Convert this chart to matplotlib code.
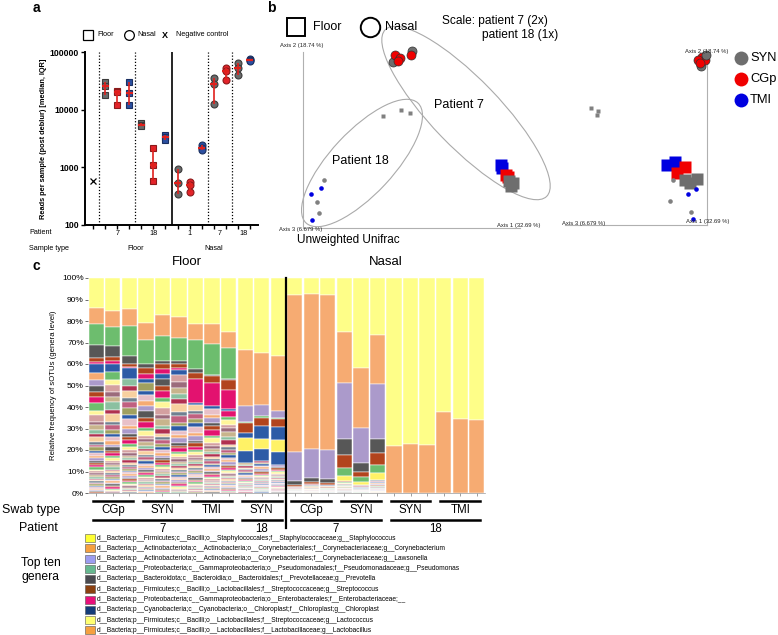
import numpy as np
import matplotlib
matplotlib.use('Agg')
import matplotlib.pyplot as plt
import matplotlib.transforms as mtransforms
from matplotlib.patches import Ellipse, Rectangle
from matplotlib.ticker import NullLocator

plt.rcParams['font.family'] = ['Liberation Sans', 'DejaVu Sans']

W, H = 778, 635

# ---------------- panel a : reads per sample ----------------
a_sample = ['Floor'] * 6 + ['Nasal'] * 7
a_patient = [7, 7, 7, 18, 18, 18, 1, 1, 1, 7, 7, 18, 18]
a_swab = ['SYN', 'CGp', 'TMI', 'SYN', 'CGp', 'TMI', 'SYN', 'CGp', 'TMI',
          'SYN', 'CGp', 'SYN', 'TMI']
a_reads = [[30000, 26000, 18000], [21000, 20000, 12000], [30000, 19500, 12000],
           [5800, 5500, 5200], [2200, 1100, 580], [3700, 3300, 3000],
           [950, 540, 350], [550, 500, 370], [2400, 2200, 2000],
           [36000, 28000, 12500], [52000, 47000, 33000],
           [64000, 52000, 40000], [75000, 72000, 69000]]
neg_control = 580
a_patient_ticks = [('7', 2), ('18', 5), ('1', 8), ('7', 10.5), ('18', 12.5)]
a_sample_ticks = [('Floor', 3.5), ('Nasal', 10)]

swab_face = {'SYN': '#6a6a6a', 'CGp': '#e3242b', 'TMI': '#2b4fa0'}
swab_edge = {'SYN': '#3a3a3a', 'CGp': '#8b1a1a', 'TMI': '#1a2f60'}

# ---------------- panel b : PCoA (unweighted unifrac) ----------------
b_type = ['Nasal'] * 6 + ['Floor'] * 7 + ['Floor'] * 3 + ['Nasal'] * 6
b_patient = [7] * 6 + [7] * 7 + [18] * 3 + [18] * 6
b_swab = ['SYN', 'CGp', 'CGp', 'CGp', 'SYN', 'CGp',
          'TMI', 'TMI', 'CGp', 'CGp', 'SYN', 'SYN', 'SYN',
          'SYN', 'SYN', 'SYN',
          'SYN', 'TMI', 'TMI', 'SYN', 'SYN', 'TMI']
# view 1 (axis 3 / axis 2 face)
b1_x = [0.90, 0.92, 0.97, 0.95, 1.09, 1.08,
        1.98, 1.99, 2.03, 2.05, 2.10, 2.08, 2.06,
        0.80, 0.98, 1.07,
        0.21, 0.18, 0.08, 0.14, 0.16, 0.09]
b1_y = [1.66, 1.73, 1.70, 1.67, 1.77, 1.73,
        0.63, 0.60, 0.53, 0.51, 0.45, 0.42, 0.47,
        1.12, 1.18, 1.15,
        0.48, 0.40, 0.34, 0.26, 0.15, 0.08]
# view 2 (axis 1 / axis 2 face)
b2_x = [1.36, 1.37, 1.40, 1.33, 1.41, 1.35,
        1.02, 1.10, 1.12, 1.20, 1.20, 1.32, 1.25,
        0.26, 0.33, 0.32,
        1.08, 1.31, 1.23, 1.05, 1.26, 1.28]
b2_y = [1.59, 1.68, 1.65, 1.65, 1.70, 1.62,
        0.60, 0.63, 0.52, 0.58, 0.45, 0.46, 0.42,
        1.17, 1.14, 1.10,
        0.45, 0.36, 0.31, 0.24, 0.13, 0.06]
b_colors = {'SYN': '#6e6e6e', 'CGp': '#f00000', 'TMI': '#0000e0'}

# ---------------- panel c : genera barplot ----------------
genus_labels = [
    'd__Bacteria;p__Firmicutes;c__Bacilli;o__Staphylococcales;f__Staphylococcaceae;g__Staphylococcus',
    'd__Bacteria;p__Actinobacteriota;c__Actinobacteria;o__Corynebacteriales;f__Corynebacteriaceae;g__Corynebacterium',
    'd__Bacteria;p__Actinobacteriota;c__Actinobacteria;o__Corynebacteriales;f__Corynebacteriaceae;g__Lawsonella',
    'd__Bacteria;p__Proteobacteria;c__Gammaproteobacteria;o__Pseudomonadales;f__Pseudomonadaceae;g__Pseudomonas',
    'd__Bacteria;p__Bacteroidota;c__Bacteroidia;o__Bacteroidales;f__Prevotellaceae;g__Prevotella',
    'd__Bacteria;p__Firmicutes;c__Bacilli;o__Lactobacillales;f__Streptococcaceae;g__Streptococcus',
    'd__Bacteria;p__Proteobacteria;c__Gammaproteobacteria;o__Enterobacterales;f__Enterobacteriaceae;__',
    'd__Bacteria;p__Cyanobacteria;c__Cyanobacteria;o__Chloroplast;f__Chloroplast;g__Chloroplast',
    'd__Bacteria;p__Firmicutes;c__Bacilli;o__Lactobacillales;f__Streptococcaceae;g__Lactococcus',
    'd__Bacteria;p__Firmicutes;c__Bacilli;o__Lactobacillales;f__Lactobacillaceae;g__Lactobacillus',
]
legend_colors = ['#ffff33', '#f5a040', '#9c9cf0', '#66b890', '#4a4a50',
                 '#8b4010', '#e8107a', '#143c78', '#ffff70', '#f5a040']

# relative frequency (%) per sample, 12 floor then 12 nasal
staph = [14, 15.5, 14.5, 21, 17, 18, 21.5, 21.5, 25, 33.5, 35, 36.5,
         8, 7.5, 8, 25, 41.8, 26.6, 78.2, 77, 77.5, 62.3, 65.6, 66]
coryne = [7.5, 7.3, 8, 8, 10, 10, 7.5, 9, 7.5, 26, 24, 25.5,
          73, 72, 72, 23.8, 27.9, 22.9, 21.8, 23, 22.5, 37.7, 34.4, 34]
laws = [0, 0, 0, 0, 0, 0, 0, 0, 0, 7.5, 5, 3,
        13.3, 13.5, 13.5, 26.2, 16.3, 25.5, 0, 0, 0, 0, 0, 0]
pseudo = [9.5, 9, 14, 11, 11.5, 10.5, 13.5, 14.5, 14.5, 0.5, 1, 0.5,
          0, 0, 0, 0, 0, 0, 0, 0, 0, 0, 0, 0]
prev = [6, 5, 3.5, 2, 1.5, 1.5, 1.5, 0.5, 0.5, 0, 0, 0,
        2, 2, 2, 7.5, 4.1, 6.5, 0, 0, 0, 0, 0, 0]
strep = [2, 2, 1.5, 2.5, 2.5, 2, 3, 3.5, 4.5, 4.5, 4, 3.8,
         0.7, 1, 1, 6, 2.3, 5.5, 0, 0, 0, 0, 0, 0]
entero = [1, 1, 0.5, 2.5, 2, 1, 11, 10.5, 9, 0, 0, 0,
          0, 0, 0, 0, 0, 0, 0, 0, 0, 0, 0, 0]
chloro = [4, 4, 5, 2, 2.5, 2, 1, 1.5, 1, 2.5, 6, 6,
          0, 0, 0, 0, 0, 0, 0, 0, 0, 0, 0, 0]
green_other = [0, 0, 0, 0, 0, 0, 0, 0, 0, 0, 0, 0,
               0, 0, 0, 3.5, 2.7, 3.5, 0, 0, 0, 0, 0, 0]
lacto = [0, 0, 0, 0, 0, 0, 0, 0, 0, 6, 4.5, 5.7,
         0, 0, 0, 2.5, 1.2, 3.5, 0, 0, 0, 0, 0, 0]
blue_other = [0, 0, 0, 0, 0, 0, 0, 0, 0, 5.5, 5.5, 6,
              0, 0, 0, 0, 0, 0, 0, 0, 0, 0, 0, 0]

stack = [(staph, '#fefe88'), (coryne, '#f6ab72'), (laws, '#ab9acb'),
         (pseudo, '#6dbd6e'), (prev, '#575757'), (strep, '#b2441d'),
         (entero, '#e3126f'), (chloro, '#2d5ba6'), (green_other, '#6dbd6e'),
         (lacto, '#fff266'), (blue_other, '#2d5ba6')]

# remaining rare sOTUs: rough relative sizes of the stripes below the top taxa
minor_weights = [3.0, 2.0, 2.5, 1.8, 2.2, 3.0, 1.5, 2.8, 1.2, 2.0, 1.5, 1.0,
                 1.8, 1.2, 1.0, 1.4, 0.9, 1.1, 0.8, 1.0, 0.9, 0.7, 0.8, 0.9,
                 0.6, 0.7, 0.8, 0.6, 0.7, 0.6, 0.5, 0.6, 0.5, 0.6, 0.5, 0.5,
                 0.4, 0.5, 0.4, 0.4]
minor_palette = ['#f6ab72', '#ab9acb', '#575757', '#b2441d', '#e3126f',
                 '#6dbd6e', '#fff69a', '#d4a0a0', '#9c6b7b', '#c8b48c',
                 '#8bc0a0', '#b03050', '#f8d0a0', '#708090', '#c06080',
                 '#a0a060', '#2d5ba6', '#e8c0c8']

swab_groups = [('CGp', 0, 2), ('SYN', 3, 5), ('TMI', 6, 8), ('SYN', 9, 11),
               ('CGp', 12, 14), ('SYN', 15, 17), ('SYN', 18, 20), ('TMI', 21, 23)]
patient_groups = [('7', 0, 8), ('18', 9, 11), ('7', 12, 17), ('18', 18, 23)]

# ---------------- figure ----------------
fig = plt.figure(figsize=(W / 100, H / 100), dpi=100)


def px_axes(l, t, r, b):
    return fig.add_axes([l / W, 1 - b / H, (r - l) / W, (b - t) / H])


# ---- a
ax = px_axes(85, 52, 258, 225)
ax.set_yscale('log')
ax.set_ylim(100, 100000)
ax.set_xlim(-0.7, 13.7)
for i, (sw, st, vals) in enumerate(zip(a_swab, a_sample, a_reads)):
    xpos = i + 1
    mk = 's' if st == 'Floor' else 'o'
    ax.plot([xpos] * len(vals), vals, ls='none', marker=mk, ms=5,
            mfc=swab_face[sw], mec=swab_edge[sw], mew=0.8, zorder=3)
    q1, med, q3 = np.percentile(vals, [25, 50, 75], method='weibull')
    ax.vlines(xpos, q1, q3, color='#e0201c', lw=1.2, zorder=4)
    ax.hlines(med, xpos - 0.3, xpos + 0.3, color='#e0201c', lw=1.6, zorder=4)
ax.plot(0, neg_control, marker='x', color='black', ms=5, mew=0.9, ls='none')
for xv in [0.5, 3.5, 9.5, 11.5]:
    ax.axvline(xv, color='black', ls=(0, (1, 1.5)), lw=0.9)
ax.axvline(6.5, color='black', lw=1.2)
ax.set_yticks([100, 1000, 10000, 100000], labels=['100', '1000', '10000', '100000'])
ax.yaxis.set_minor_locator(NullLocator())
for lbl in ax.get_yticklabels():
    lbl.set_fontweight('bold')
ax.tick_params(axis='y', labelsize=6.2, length=3, width=1, pad=1.5)
ax.set_xticks(range(14))
ax.set_xticklabels([])
ax.tick_params(axis='x', length=3, width=1)
for s in ['top', 'right']:
    ax.spines[s].set_visible(False)
for s in ['left', 'bottom']:
    ax.spines[s].set_linewidth(1.4)
ax.set_ylabel('Reads per sample (post deblur) [median, IQR]', fontsize=5.3,
              fontweight='bold', labelpad=2)
ta = mtransforms.blended_transform_factory(ax.transData, ax.transAxes)
for lab, xv in a_patient_ticks:
    ax.text(xv, -0.048, lab, transform=ta, ha='center', va='center', fontsize=5.2)
for lab, xv in a_sample_ticks:
    ax.text(xv, -0.137, lab, transform=ta, ha='center', va='center', fontsize=5.2)

# ---- b, two faces of the 3D ordination
b1 = px_axes(303, 52, 520, 228)
b1.set_xlim(0, 2.17)
b1.set_ylim(0, 1.76)
b2 = px_axes(565, 52, 707, 225)
b2.set_xlim(0, 1.42)
b2.set_ylim(0, 1.73)
for bx, xs, ys, keep in [(b1, b1_x, b1_y, ['left', 'bottom']),
                         (b2, b2_x, b2_y, ['right', 'bottom'])]:
    bx.set_xticks([])
    bx.set_yticks([])
    bx.patch.set_alpha(0)
    for s in ['top', 'right', 'left', 'bottom']:
        bx.spines[s].set_visible(s in keep)
        bx.spines[s].set_color('#b0b0b0')
        bx.spines[s].set_linewidth(0.8)
    for x, y, t, p, sw in zip(xs, ys, b_type, b_patient, b_swab):
        if p == 7:
            if t == 'Floor':
                bx.plot(x, y, marker='s', ms=8, mfc=b_colors[sw], mec='none',
                        clip_on=False, zorder=3)
            else:
                bx.plot(x, y, marker='o', ms=6.5, mfc=b_colors[sw], mec='#333333',
                        mew=0.5, clip_on=False, zorder=3)
        else:
            mk = 's' if t == 'Floor' else 'o'
            col = '#808080' if sw == 'SYN' else b_colors[sw]
            bx.plot(x, y, marker=mk, ms=3.3, mfc=col, mec='none',
                    clip_on=False, zorder=3)
b1.add_patch(Ellipse((0.59, 0.65), 1.64, 0.63, angle=47, fill=False,
                     ec='#aaaaaa', lw=0.8, clip_on=False))
b1.add_patch(Ellipse((1.63, 1.15), 2.32, 0.68, angle=-46, fill=False,
                     ec='#aaaaaa', lw=0.8, clip_on=False))

# ---- c
axc = px_axes(88, 278, 485, 493)
bx_, bh, bb, bc = [], [], [], []
for i in range(24):
    top = 100.0
    for vals, col in stack:
        h = vals[i]
        if h <= 0:
            continue
        bx_.append(i); bh.append(h); bb.append(top - h); bc.append(col)
        top -= h
    minor = max(top, 0)
    if minor > 0.05:
        wsum = sum(minor_weights)
        off = (i * 5) % len(minor_palette)
        for k, w in enumerate(minor_weights):
            h = minor * w / wsum
            bx_.append(i); bh.append(h); bb.append(top - h)
            bc.append(minor_palette[(k + off) % len(minor_palette)])
            top -= h
axc.bar(bx_, bh, bottom=bb, width=0.92, color=bc, edgecolor='white', linewidth=0.35)
axc.set_xlim(-0.5, 23.5)
axc.set_ylim(0, 100)
axc.set_yticks(range(0, 101, 10), labels=[f'{v}%' for v in range(0, 101, 10)])
axc.tick_params(axis='y', labelsize=6, length=2, width=0.6, pad=1, color='#555555')
axc.set_xticks(range(24))
axc.set_xticklabels([])
axc.tick_params(axis='x', length=2, width=0.5, color='#777777')
for s in ['top', 'right', 'left']:
    axc.spines[s].set_visible(False)
axc.spines['bottom'].set_color('#999999')
axc.spines['bottom'].set_linewidth(0.5)
axc.set_ylabel('Relative frequency of sOTUs (genera level)', fontsize=5.6, labelpad=4)
tc = mtransforms.blended_transform_factory(axc.transData, axc.transAxes)
axc.plot([11.5, 11.5], [-0.163, 1.0], transform=tc, color='black', lw=1.6,
         clip_on=False, zorder=5)
axc.text(5.5, 1.075, 'Floor', transform=tc, ha='center', va='center', fontsize=9.5)
axc.text(17.5, 1.075, 'Nasal', transform=tc, ha='center', va='center', fontsize=9.5)
for lab, i0, i1 in swab_groups:
    axc.plot([i0 - 0.2, i1 + 0.2], [-0.037, -0.037], transform=tc, color='black',
             lw=1.8, clip_on=False)
    axc.text((i0 + i1) / 2, -0.081, lab, transform=tc, ha='center', va='center',
             fontsize=8.3)
for lab, i0, i1 in patient_groups:
    axc.plot([i0 - 0.2, i1 + 0.2], [-0.126, -0.126], transform=tc, color='black',
             lw=1.8, clip_on=False)
    axc.text((i0 + i1) / 2, -0.168, lab, transform=tc, ha='center', va='center',
             fontsize=8.3)

# ---- overlay for labels and legends (pixel coordinates)
ov = fig.add_axes([0, 0, 1, 1])
ov.set_xlim(0, W)
ov.set_ylim(H, 0)
ov.axis('off')

for lab, x, y in [('a', 36, 8), ('b', 271, 8), ('c', 36, 266)]:
    ov.text(x, y, lab, fontsize=10, fontweight='bold', ha='center', va='center')

# a legend and row titles
ov.plot(88, 35, marker='s', ms=6.5, mfc='white', mec='black', mew=0.9)
ov.text(97, 35, 'Floor', fontsize=5.2, va='center')
ov.plot(129, 35, marker='o', ms=7, mfc='white', mec='black', mew=0.9)
ov.text(137, 35, 'Nasal', fontsize=5.2, va='center')
ov.text(162, 35, 'X', fontsize=6.5, fontweight='bold', va='center')
ov.text(176, 35, 'Negative control', fontsize=5.2, va='center')
ov.text(29, 233, 'Patient', fontsize=5.2, va='center')
ov.text(29, 249, 'Sample type', fontsize=5.2, va='center')

# b legends and text
ov.plot(296, 27, marker='s', ms=13, mfc='white', mec='black', mew=1.4)
ov.text(313, 27, 'Floor', fontsize=9, va='center')
ov.plot(370, 27, marker='o', ms=14, mfc='white', mec='black', mew=1.4)
ov.text(385, 27, 'Nasal', fontsize=9, va='center')
ov.text(442, 21, 'Scale: patient 7 (2x)', fontsize=8.6, va='center')
ov.text(482, 35, 'patient 18 (1x)', fontsize=8.6, va='center')
ov.text(459, 105, 'Patient 7', fontsize=9, ha='center', va='center')
ov.text(360, 161, 'Patient 18', fontsize=9, ha='center', va='center')
ov.text(348, 240, 'Unweighted Unifrac', fontsize=8.5, ha='center', va='center')
for txt, x, y in [('Axis 2 (18.74 %)', 280, 45), ('Axis 3 (6.679 %)', 279, 229),
                  ('Axis 1 (32.69 %)', 497, 226), ('Axis 2 (18.74 %)', 685, 51),
                  ('Axis 3 (6.679 %)', 562, 224), ('Axis 1 (32.69 %)', 686, 221)]:
    ov.text(x, y, txt, fontsize=4.2, va='center', color='#222222')
for k, sw in enumerate(['SYN', 'CGp', 'TMI']):
    y = 58 + k * 21
    ov.plot(741, y, marker='o', ms=10, mfc=b_colors[sw], mec='none')
    ov.text(750, y, sw, fontsize=9.3, va='center')

# c row titles and genera legend
ov.text(60, 510, 'Swab type', fontsize=8.9, ha='right', va='center')
ov.text(58, 528, 'Patient', fontsize=8.9, ha='right', va='center')
ov.text(41, 570, 'Top ten\ngenera', fontsize=8.7, ha='center', va='center',
        linespacing=1.2)
for k, (lab, col) in enumerate(zip(genus_labels, legend_colors)):
    y = 538 + k * 10.25
    ov.add_patch(Rectangle((85, y - 4), 10, 8, fc=col, ec='#555555', lw=0.4))
    ov.text(97, y, lab, fontsize=4.8, va='center')

fig.savefig('out.png', dpi=100)
